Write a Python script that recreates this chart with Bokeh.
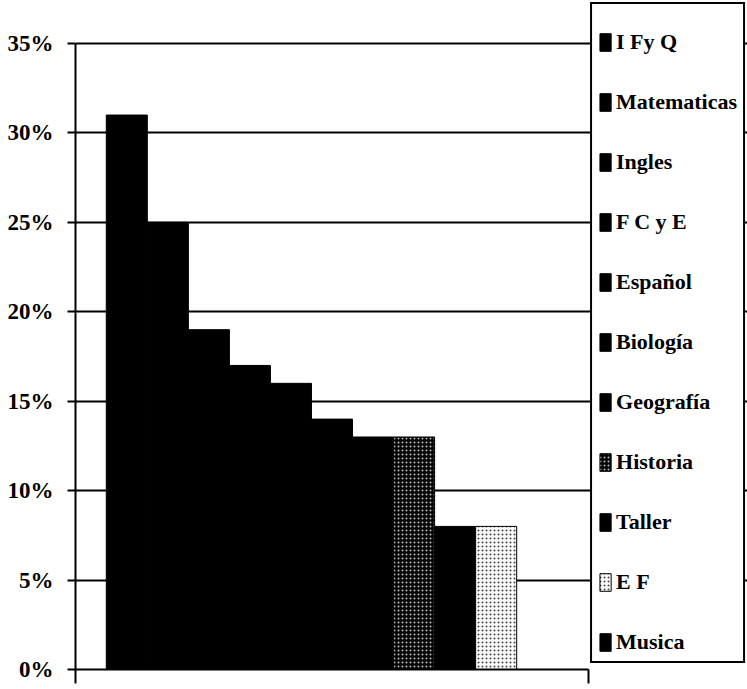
from bokeh.plotting import figure
from bokeh.models import ColumnDataSource, FixedTicker, NumeralTickFormatter, Range1d
from bokeh.embed import file_html
from bokeh.resources import INLINE

# ---- data ----
subjects = ["I Fy Q", "Matematicas", "Ingles", "F C y E", "Español", "Biología",
            "Geografía", "Historia", "Taller", "E F", "Musica"]
shares = [0.31, 0.25, 0.19, 0.17, 0.16, 0.14, 0.13, 0.13, 0.08, 0.08, 0.0]
y_ticks = [0.0, 0.05, 0.10, 0.15, 0.20, 0.25, 0.30, 0.35]

# ---- styles ----
fills = ["black", "black", "black", "black", "black", "black", "black",
         "black", "black", "white", "black"]
hatches = ["blank", "blank", "blank", "blank", "blank", "blank", "blank",
           "dot", "blank", "dot", "blank"]
hatch_colors = ["white", "white", "white", "white", "white", "white", "white",
                "white", "white", "black", "white"]

W, H = 747, 689
LEFT, BOTTOM = 75, 20
PLOT_W, PLOT_H = 513, 626          # pixel size of the chart's plot area
TOP_PAD = 43                       # gap above the 35% line (legend starts higher)

n = len(subjects)
gap = 0.75  # Excel gap width 150% split on both sides
x_lo = -0.5 - gap
x_hi = (n - 1) + 0.5 + gap
unit = PLOT_W / (x_hi - x_lo)
x_end = x_lo + (W - LEFT) / unit   # frame runs under the legend
y_max = y_ticks[-1]
y_top = y_max * (PLOT_H + TOP_PAD) / PLOT_H

src = ColumnDataSource(dict(
    x=list(range(n)), share=shares, subject=subjects,
    fill=fills, hatch=hatches, hcol=hatch_colors,
))

FONT = "Liberation Serif"

p = figure(width=W, height=H, output_backend="svg", toolbar_location=None,
           x_range=Range1d(x_lo, x_end), y_range=Range1d(0, y_top),
           min_border_left=LEFT, min_border_right=0, min_border_top=0,
           min_border_bottom=BOTTOM)
p.outline_line_color = None
p.background_fill_color = "white"
p.border_fill_color = "white"

p.vbar(x="x", top="share", width=1.0, source=src, fill_color="fill",
       line_color="black", line_width=1,
       hatch_pattern="hatch", hatch_color="hcol", hatch_scale=4,
       hatch_weight=1, hatch_alpha=0.75, legend_field="subject")

# y axis
yt = FixedTicker(ticks=y_ticks)
p.yaxis.ticker = yt
p.yaxis.bounds = (0, y_max)
p.yaxis.formatter = NumeralTickFormatter(format="0%")
p.yaxis.axis_line_color = "black"
p.yaxis.axis_line_width = 2
p.yaxis.major_tick_line_color = "black"
p.yaxis.major_tick_line_width = 2
p.yaxis.major_tick_out = 8
p.yaxis.major_tick_in = 0
p.yaxis.minor_tick_line_color = None
p.yaxis.major_label_standoff = 14
p.yaxis.major_label_text_font = FONT
p.yaxis.major_label_text_font_style = "bold"
p.yaxis.major_label_text_font_size = "23px"
p.yaxis.major_label_text_color = "black"

# x axis: only the two cross ticks at the category edges
p.xaxis.ticker = FixedTicker(ticks=[x_lo, x_hi])
p.xaxis.bounds = (x_lo, x_hi)
p.xaxis.major_label_overrides = {x_lo: "", x_hi: ""}
p.xaxis.axis_line_color = "black"
p.xaxis.axis_line_width = 2
p.xaxis.major_tick_line_color = "black"
p.xaxis.major_tick_line_width = 2
p.xaxis.major_tick_out = 14
p.xaxis.major_tick_in = 0
p.xaxis.minor_tick_line_color = None
p.xaxis.major_label_standoff = 0

p.ygrid.ticker = yt
p.ygrid.grid_line_color = "black"
p.ygrid.grid_line_width = 2
p.xgrid.visible = False

lg = p.legend[0]
lg.location = "top_right"
lg.title = " "
lg.title_text_font_size = "10px"
lg.title_standoff = 8
lg.border_line_color = "black"
lg.border_line_alpha = 1.0
lg.border_line_width = 2
lg.background_fill_color = "white"
lg.background_fill_alpha = 1
lg.padding = 6
lg.margin = 2
lg.glyph_width = 14
lg.glyph_height = 22
lg.label_height = 22
lg.label_standoff = 4
lg.spacing = 34
lg.label_text_font = FONT
lg.label_text_font_style = "bold"
lg.label_text_font_size = "22px"
lg.label_text_color = "black"

open("out.html", "w").write(file_html(p, INLINE))
